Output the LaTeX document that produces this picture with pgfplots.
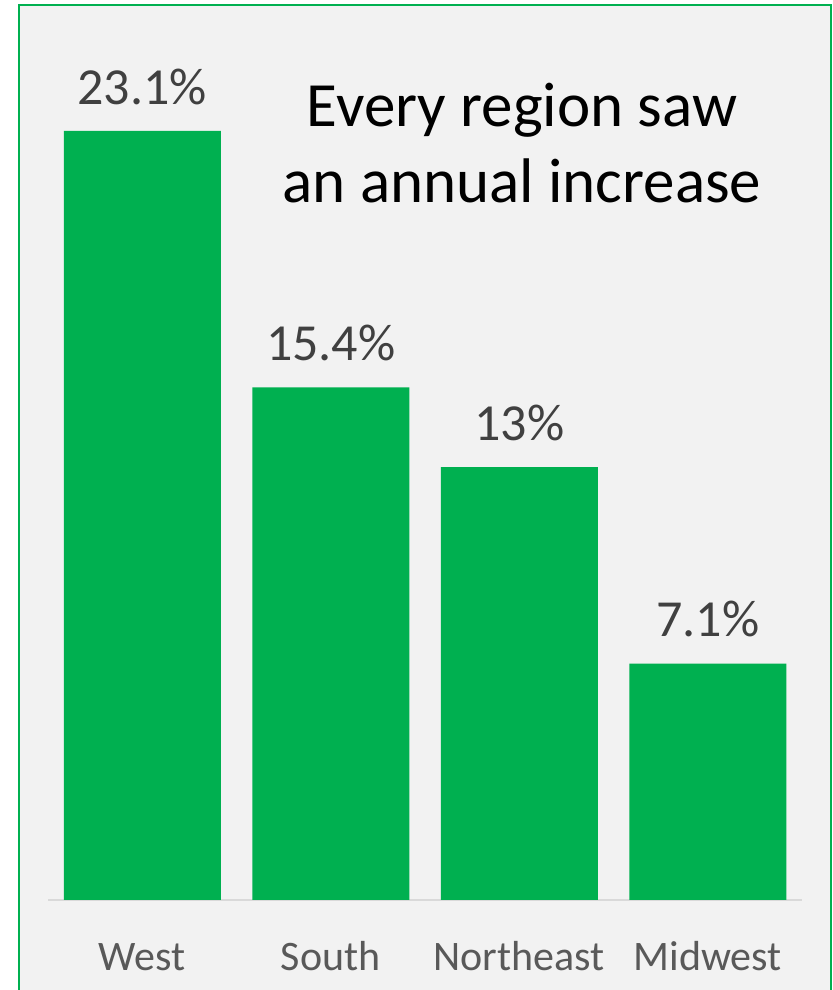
\documentclass[border=0pt]{standalone}
\usepackage{pgfplots}
\pgfplotsset{compat=1.18}
\usepackage{fontspec}
\setmainfont{Carlito}
\definecolor{bargreen}{RGB}{0,176,80}
\definecolor{bordergreen}{RGB}{0,176,80}
\definecolor{bggray}{RGB}{242,242,242}
\definecolor{labelgray}{RGB}{64,64,64}
\definecolor{catgray}{RGB}{89,89,89}
\definecolor{axisgray}{RGB}{217,217,217}
\begin{document}
\begin{tikzpicture}
\useasboundingbox (0,0) rectangle (416pt,495pt);
\clip (0,0) rectangle (416pt,495pt);
\fill[white] (0,0) rectangle (416pt,495pt);
\fill[bggray] (9.25pt,-10pt) rectangle (415.25pt,492.25pt);
\draw[bordergreen, line width=1pt] (9.25pt,-10pt) -- (9.25pt,492.25pt) -- (415.25pt,492.25pt) -- (415.25pt,-10pt);
\begin{axis}[
  at={(24pt,45pt)}, anchor=south west,
  scale only axis,
  width=377pt, height=430pt,
  xmin=-0.5, xmax=3.5, ymin=0, ymax=25.83,
  ybar, bar width=78.5pt,
  axis y line=none,
  axis x line*=bottom,
  x axis line style={axisgray, line width=0.75pt, -},
  xtick=data,
  xticklabels={West,South,Northeast,Midwest},
  xtick style={draw=none},
  xticklabel style={anchor=base, yshift=-31pt, inner sep=0pt, font=\fontsize{21}{25}\selectfont, text=catgray},
  /pgf/number format/assume math mode=true,
  nodes near coords={\pgfmathprintnumber[fixed,precision=1,assume math mode=true]{\pgfplotspointmeta}\%},
  every node near coord/.append style={anchor=south, inner sep=0pt, yshift=13pt, font=\fontsize{26}{30}\selectfont, text=labelgray},
  clip=false,
]
\addplot[fill=bargreen, draw=none] coordinates {(0,23.1) (1,15.4) (2,13) (3,7.1)};
\end{axis}
\node[anchor=base, font=\fontsize{31.5}{38}\selectfont, text=black, inner sep=0pt] at (261pt,431.5pt) {Every region saw};
\node[anchor=base, font=\fontsize{31.5}{38}\selectfont, text=black, inner sep=0pt] at (261pt,393.5pt) {an annual increase};
\end{tikzpicture}
\end{document}
